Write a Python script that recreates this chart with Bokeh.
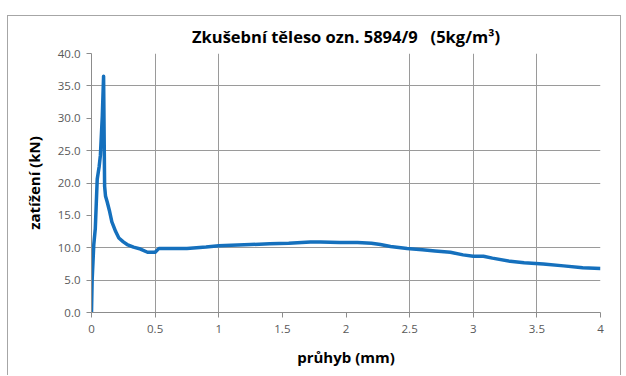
from bokeh.plotting import figure
from bokeh.models import FixedTicker, Range1d, Title
from bokeh.embed import file_html
from bokeh.resources import INLINE

# průhyb (mm)
deflection = [0, 0.005, 0.018, 0.03, 0.045, 0.06, 0.07, 0.085, 0.095, 0.103, 0.11, 0.123,
              0.14, 0.16, 0.19, 0.215, 0.25, 0.28, 0.33, 0.385, 0.44, 0.5, 0.53, 0.6,
              0.75, 0.9, 1.0, 1.1, 1.25, 1.4, 1.55, 1.72, 1.8, 1.95, 2.09, 2.2, 2.27,
              2.35, 2.48, 2.6, 2.7, 2.82, 2.92, 3.0, 3.08, 3.15, 3.29, 3.4, 3.55, 3.71,
              3.86, 4.0]
# zatížení (kN)
load = [0, 5, 10.5, 13, 20.6, 22.5, 24.3, 30.4, 36.5, 19.5, 18.0, 17.1,
        15.8, 14.0, 12.5, 11.5, 10.9, 10.5, 10.1, 9.8, 9.3, 9.3, 9.9, 9.9,
        9.9, 10.1, 10.3, 10.4, 10.5, 10.6, 10.7, 10.9, 10.9, 10.8, 10.8, 10.7, 10.5,
        10.2, 9.9, 9.7, 9.5, 9.3, 8.9, 8.7, 8.7, 8.4, 7.9, 7.7, 7.5, 7.2,
        6.9, 6.8]

x_ticks = [0, 0.5, 1, 1.5, 2, 2.5, 3, 3.5, 4]
y_ticks = [0, 5, 10, 15, 20, 25, 30, 35, 40]
x_grid = [0.5, 1, 2.5, 3, 3.5, 4]
y_grid = [5, 10, 20, 25, 35, 40]

title_text = "Zkušební těleso ozn. 5894/9 \u00a0 (5kg/m³)"
x_label = "průhyb (mm)"
y_label = "zatížení (kN)"

FONT = "Open Sans"

p = figure(width=614, height=360, output_backend="svg", toolbar_location=None,
           x_range=Range1d(0, 4), y_range=Range1d(0, 40),
           min_border_left=83, min_border_right=22, min_border_top=34, min_border_bottom=64)
p.styles = {"margin-left": "7px", "margin-top": "15px",
            "border-left": "1px solid #a6a6a6", "border-top": "1px solid #a6a6a6",
            "border-right": "1px solid #a6a6a6"}
p.outline_line_color = None
p.background_fill_color = "white"
p.border_fill_color = "white"

t = Title(text=title_text, align="center", text_font=FONT, text_font_size="16.5px",
          text_font_style="bold", text_color="#000000", offset=-5, standoff=12)
p.add_layout(t, "above")

p.line(deflection, load, line_color="#1570bd", line_width=3.5, line_join="round")

for ax in (p.xaxis[0], p.yaxis[0]):
    ax.axis_line_color = "#8c8c8c"
    ax.major_tick_line_color = "#8c8c8c"
    ax.minor_tick_line_color = None
    ax.major_tick_in = 0
    ax.major_tick_out = 5
    ax.major_label_text_font = FONT
    ax.major_label_text_font_size = "11.5px"
    ax.major_label_text_color = "#595959"
    ax.axis_label_text_font = FONT
    ax.axis_label_text_font_size = "15px"
    ax.axis_label_text_font_style = "bold"
    ax.axis_label_text_color = "#000000"

p.xaxis[0].ticker = FixedTicker(ticks=x_ticks)
p.yaxis[0].ticker = FixedTicker(ticks=y_ticks)
p.xaxis[0].major_label_overrides = {0: "0", 1: "1", 2: "2", 3: "3", 4: "4"}
p.yaxis[0].major_label_overrides = {v: f"{v:.1f}" for v in y_ticks}
p.xaxis[0].axis_label = x_label
p.yaxis[0].axis_label = y_label
p.xaxis[0].major_label_standoff = 7
p.yaxis[0].major_label_standoff = 6
p.xaxis[0].axis_label_standoff = 11
p.yaxis[0].axis_label_standoff = 11

p.xgrid[0].ticker = FixedTicker(ticks=x_grid)
p.ygrid[0].ticker = FixedTicker(ticks=y_grid)
for g in (p.xgrid[0], p.ygrid[0]):
    g.grid_line_color = "#9a9a9a"
    g.grid_line_width = 1

open("out.html", "w").write(file_html(p, INLINE))
